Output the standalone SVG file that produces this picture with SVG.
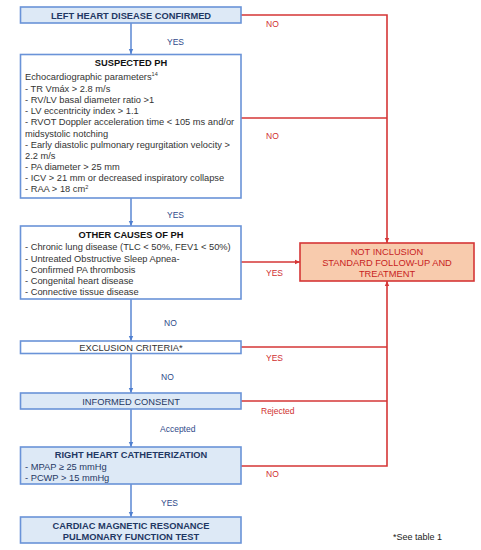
<svg xmlns="http://www.w3.org/2000/svg" width="481" height="550" viewBox="0 0 481 550">
<style>
text{font-family:"Liberation Sans",Arial,sans-serif;font-size:9.3px;fill:#1f3864}
.g{fill:#333333}
.b{font-weight:bold}
.c{text-anchor:middle}
.box{stroke:#6a93d8;stroke-width:1.6}
.blue{fill:#dde9f6}
.white{fill:#ffffff}
.lb{fill:#2f4a8a;font-size:8.5px}
.lr{fill:#d03030;font-size:8.5px}
.rt{fill:#c81e1e;font-size:9.3px}
.bl{stroke:#4f7fd0;stroke-width:1.4;fill:none}
.rl{stroke:#d53636;stroke-width:1.6;fill:none}
</style>
<defs>
<marker id="ab" markerWidth="6" markerHeight="6" refX="5" refY="3" orient="auto" markerUnits="userSpaceOnUse"><path d="M0,0.8 L5,3 L0,5.2z" fill="#4f7fd0"/></marker>
<marker id="ar" markerWidth="6" markerHeight="6" refX="5" refY="3" orient="auto" markerUnits="userSpaceOnUse"><path d="M0,0.8 L5,3 L0,5.2z" fill="#d53636"/></marker>
</defs>
<rect width="481" height="550" fill="#ffffff"/>
<g id="connectors">
<line class="bl" x1="131" y1="23" x2="131" y2="54" marker-end="url(#ab)"/>
<line class="bl" x1="131" y1="198" x2="131" y2="226" marker-end="url(#ab)"/>
<line class="bl" x1="131" y1="299" x2="131" y2="341" marker-end="url(#ab)"/>
<line class="bl" x1="131" y1="353" x2="131" y2="393" marker-end="url(#ab)"/>
<line class="bl" x1="131" y1="409" x2="131" y2="447" marker-end="url(#ab)"/>
<line class="bl" x1="131" y1="484" x2="131" y2="517" marker-end="url(#ab)"/>
<polyline class="rl" points="241,15 387,15 387,243" marker-end="url(#ar)"/>
<line class="rl" x1="241" y1="118" x2="387" y2="118"/>
<line class="rl" x1="241" y1="262" x2="300" y2="262" marker-end="url(#ar)"/>
<polyline class="rl" points="241,466 387,466 387,281" marker-end="url(#ar)"/>
<line class="rl" x1="241" y1="347" x2="387" y2="347"/>
<line class="rl" x1="241" y1="401" x2="387" y2="401"/>
<text class="lb" x="167" y="45">YES</text>
<text class="lb" x="167" y="218">YES</text>
<text class="lb" x="164" y="326">NO</text>
<text class="lb" x="161" y="380">NO</text>
<text class="lb" x="160" y="432">Accepted</text>
<text class="lb" x="161" y="506">YES</text>
<text class="lr" x="266" y="27">NO</text>
<text class="lr" x="266" y="139">NO</text>
<text class="lr" x="266" y="276">YES</text>
<text class="lr" x="266" y="361">YES</text>
<text class="lr" x="261" y="414">Rejected</text>
<text class="lr" x="266" y="477">NO</text>
</g>
<g id="left-heart">
<rect class="box blue" x="20.5" y="7" width="220.5" height="16"/>
<text class="b c" x="131" y="18.5">LEFT HEART DISEASE CONFIRMED</text>
</g>
<g id="suspected-ph">
<rect class="box white" x="20.5" y="54.5" width="220.5" height="143.5"/>
<text class="b c" x="131" y="66" fill="#111" style="fill:#111">SUSPECTED PH</text>
<text class="g" x="25" y="79.5">Echocardiographic parameters<tspan font-size="5.5" dy="-3.5">14</tspan></text>
<text class="g" x="25" y="92">- TR Vmáx &gt; 2.8 m/s</text>
<text class="g" x="25" y="103">- RV/LV basal diameter ratio &gt;1</text>
<text class="g" x="25" y="114">- LV eccentricity index &gt; 1.1</text>
<text class="g" x="25" y="125">- RVOT Doppler acceleration time &lt; 105 ms and/or</text>
<text class="g" x="25" y="136.5">midsystolic notching</text>
<text class="g" x="25" y="147.5">- Early diastolic pulmonary regurgitation velocity &gt;</text>
<text class="g" x="25" y="158.5">2.2 m/s</text>
<text class="g" x="25" y="169.5">- PA diameter &gt; 25 mm</text>
<text class="g" x="25" y="181">- ICV &gt; 21 mm or decreased inspiratory collapse</text>
<text class="g" x="25" y="192">- RAA &gt; 18 cm<tspan font-size="5.5" dy="-3.5">2</tspan></text>
</g>
<g id="other-causes">
<rect class="box white" x="20.5" y="226" width="220.5" height="73"/>
<text class="b c" x="131" y="237.5" style="fill:#111">OTHER CAUSES OF PH</text>
<text class="g" x="25" y="249.5">- Chronic lung disease (TLC &lt; 50%, FEV1 &lt; 50%)</text>
<text class="g" x="25" y="261.5">- Untreated Obstructive Sleep Apnea-</text>
<text class="g" x="25" y="272.5">- Confirmed PA thrombosis</text>
<text class="g" x="25" y="284">- Congenital heart disease</text>
<text class="g" x="25" y="295">- Connective tissue disease</text>
</g>
<g id="not-inclusion">
<rect x="300" y="243" width="174" height="38" fill="#f8cbad" stroke="#d53636" stroke-width="1.6"/>
<text class="rt c" x="387" y="254.5">NOT INCLUSION</text>
<text class="rt c" x="387" y="265.5">STANDARD FOLLOW-UP AND</text>
<text class="rt c" x="387" y="276.5">TREATMENT</text>
</g>
<g id="exclusion">
<rect class="box white" x="20.5" y="341" width="220.5" height="12.5"/>
<text class="c g" x="131" y="350.5">EXCLUSION CRITERIA*</text>
</g>
<g id="consent">
<rect class="box blue" x="20.5" y="393" width="220.5" height="16"/>
<text class="c" x="131" y="404.5">INFORMED CONSENT</text>
</g>
<g id="rhc">
<rect class="box blue" x="20.5" y="447" width="220.5" height="37"/>
<text class="b c" x="131" y="458">RIGHT HEART CATHETERIZATION</text>
<text x="25" y="469.5">- MPAP ≥ 25 mmHg</text>
<text x="25" y="480.5">- PCWP &gt; 15 mmHg</text>
</g>
<g id="cmr">
<rect class="box blue" x="20.5" y="517" width="220.5" height="26"/>
<text class="b c" x="131" y="528.5">CARDIAC MAGNETIC RESONANCE</text>
<text class="b c" x="131" y="539.5">PULMONARY FUNCTION TEST</text>
</g>
<g id="note">
<text x="393" y="540" style="fill:#222;font-size:9px">*See table 1</text>
</g>
</svg>
